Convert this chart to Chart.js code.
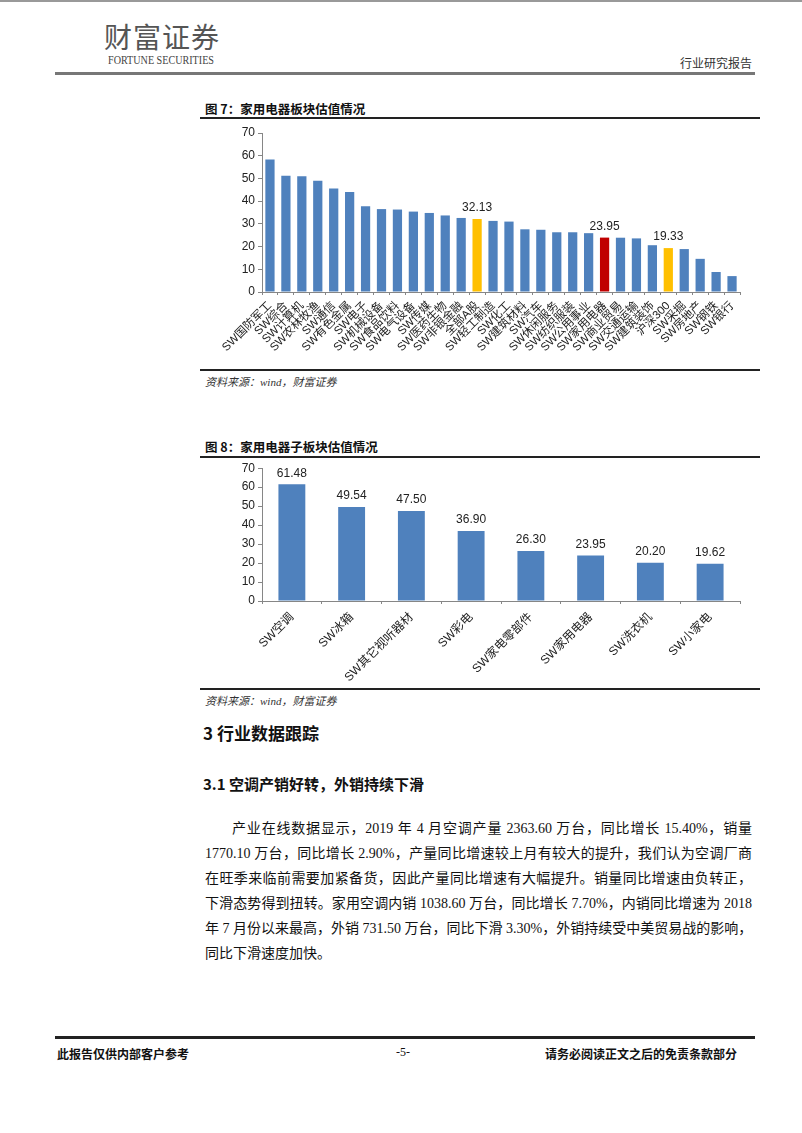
<!DOCTYPE html>
<html><head><meta charset="utf-8">
<script src="https://cdn.jsdelivr.net/npm/chart.js@4"></script>
<style>
html,body{margin:0;padding:0;background:#fff;}
body{width:802px;height:1133px;position:relative;overflow:hidden;font-family:"Liberation Serif","Noto Sans CJK SC",serif;color:#111;}
.abs{position:absolute;white-space:nowrap;}
.hl{position:absolute;}
.para{position:absolute;left:205px;width:547px;font-size:14px;text-align:justify;text-align-last:justify;white-space:nowrap;line-height:18px;}
</style></head><body>
<div class="hl" style="left:0;top:0;width:802px;height:2px;background:#999"></div>
<div class="abs" style="left:104px;top:16px;font-family:'Noto Sans CJK SC';font-size:28px;color:#555;letter-spacing:1px">财富证券</div>
<div class="abs" style="left:108px;top:54px;font-family:'Liberation Serif';font-size:11.5px;color:#444;transform:scaleX(0.88);transform-origin:left">FORTUNE SECURITIES</div>
<div class="abs" style="left:680px;top:54px;font-family:'Noto Sans CJK SC';font-size:12px;color:#333">行业研究报告</div>
<div class="hl" style="left:55px;top:72px;width:700px;height:3px;background:#777"></div>

<div class="abs" style="left:205px;top:99px;font-family:'Noto Sans CJK SC';font-weight:bold;font-size:12.5px">图 7：家用电器板块估值情况</div>
<div class="hl" style="left:200px;top:117px;width:560px;height:2px;background:#222"></div>
<canvas id="c1" style="position:absolute;left:200px;top:119px" width="560" height="250"></canvas>
<div class="hl" style="left:200px;top:369px;width:560px;height:1.5px;background:#222"></div>
<div class="abs" style="left:205px;top:373px;font-size:11px;font-style:italic;color:#333">资料来源：wind，财富证券</div>

<div class="abs" style="left:205px;top:437px;font-family:'Noto Sans CJK SC';font-weight:bold;font-size:12.5px">图 8：家用电器子板块估值情况</div>
<div class="hl" style="left:200px;top:456px;width:560px;height:2px;background:#222"></div>
<canvas id="c2" style="position:absolute;left:200px;top:458px" width="560" height="230"></canvas>
<div class="hl" style="left:200px;top:688px;width:560px;height:1.5px;background:#222"></div>
<div class="abs" style="left:205px;top:692px;font-size:11px;font-style:italic;color:#333">资料来源：wind，财富证券</div>

<div class="abs" style="left:203px;top:720px;font-family:'Noto Sans CJK SC';font-weight:bold;font-size:17px">3 行业数据跟踪</div>
<div class="abs" style="left:203px;top:773px;font-family:'Noto Sans CJK SC';font-weight:bold;font-size:15px">3.1 空调产销好转，外销持续下滑</div>

<div class="para" style="top:820px;left:232px;width:520px">产业在线数据显示，2019 年 4 月空调产量 2363.60 万台，同比增长 15.40%，销量</div>
<div class="para" style="top:845px">1770.10 万台，同比增长 2.90%，产量同比增速较上月有较大的提升，我们认为空调厂商</div>
<div class="para" style="top:870px">在旺季来临前需要加紧备货，因此产量同比增速有大幅提升。销量同比增速由负转正，</div>
<div class="para" style="top:895px">下滑态势得到扭转。家用空调内销 1038.60 万台，同比增长 7.70%，内销同比增速为 2018</div>
<div class="para" style="top:920px">年 7 月份以来最高，外销 731.50 万台，同比下滑 3.30%，外销持续受中美贸易战的影响，</div>
<div class="para" style="top:945px;text-align-last:left">同比下滑速度加快。</div>

<div class="hl" style="left:55px;top:1036px;width:700px;height:2.5px;background:#222"></div>
<div class="abs" style="left:57px;top:1045px;font-family:'Noto Sans CJK SC';font-weight:bold;font-size:12px">此报告仅供内部客户参考</div>
<div class="abs" style="left:396px;top:1045px;font-size:12px">-5-</div>
<div class="abs" style="left:545px;top:1045px;font-family:'Noto Sans CJK SC';font-weight:bold;font-size:12px">请务必阅读正文之后的免责条款部分</div>

<script>
// ---- Figure 7 data ----
const categories1 = ['SW国防军工','SW综合','SW计算机','SW农林牧渔','SW通信','SW有色金属','SW电子','SW机械设备','SW食品饮料','SW电气设备','SW传媒','SW医药生物','SW非银金融','全部A股','SW轻工制造','SW化工','SW建筑材料','SW汽车','SW休闲服务','SW纺织服装','SW公用事业','SW家用电器','SW商业贸易','SW交通运输','SW建筑装饰','沪深300','SW采掘','SW房地产','SW钢铁','SW银行'];
const values1 = [58.3, 51.2, 51.0, 49.0, 45.6, 44.0, 37.8, 36.5, 36.3, 35.4, 34.8, 33.7, 32.6, 32.13, 31.3, 31.0, 27.6, 27.4, 26.3, 26.3, 25.9, 23.95, 23.9, 23.6, 20.6, 19.33, 18.9, 14.6, 8.8, 7.0];
const labeled1 = ['全部A股','SW家用电器','沪深300'];
const benchmarks1 = ['全部A股','沪深300'];
const focus1 = ['SW家用电器'];
const yTicks1 = [0,10,20,30,40,50,60,70];

// ---- Figure 8 data ----
const categories2 = ['SW空调','SW冰箱','SW其它视听器材','SW彩电','SW家电零部件','SW家用电器','SW洗衣机','SW小家电'];
const values2 = [61.48, 49.54, 47.50, 36.90, 26.30, 23.95, 20.20, 19.62];
const yTicks2 = [0,10,20,30,40,50,60,70];

const FONT = '"Liberation Sans","Noto Sans CJK SC",Arial,sans-serif';
Chart.defaults.font.family = FONT;
Chart.defaults.color = '#222';

const valueLabels = {
  id:'valueLabels',
  afterDatasetsDraw(chart, args, opts){
    const ctx = chart.ctx;
    const meta = chart.getDatasetMeta(0);
    const ds = chart.data.datasets[0];
    ctx.save();
    ctx.font = '12px ' + FONT;
    ctx.fillStyle = '#222';
    ctx.textAlign = 'center';
    ctx.textBaseline = 'bottom';
    meta.data.forEach((bar,i)=>{
      const cat = chart.data.labels[i];
      if (opts.only && !opts.only.includes(cat)) return;
      ctx.fillText(ds.data[i].toFixed(2), bar.x, bar.y - opts.gap);
    });
    ctx.restore();
  }
};

function yScale(ticks, width){
  return {
    min: ticks[0], max: ticks[ticks.length-1],
    afterBuildTicks(s){ s.ticks = ticks.map(v=>({value:v})); },
    afterFit(s){ s.width = width; },
    border:{display:true,color:'#868686',width:1},
    grid:{drawOnChartArea:false,drawTicks:true,tickLength:4,color:'#868686'},
    ticks:{font:{size:12},color:'#222',padding:3}
  };
}
function xScale(height, fontSize, pad){
  return {
    afterFit(s){ s.height = height; },
    border:{display:true,color:'#868686',width:1},
    grid:{drawOnChartArea:false,drawTicks:true,tickLength:3,color:'#868686',offset:true},
    ticks:{font:{size:fontSize},color:'#222',minRotation:45,maxRotation:45,autoSkip:false,padding:pad}
  };
}

new Chart(document.getElementById('c1'), {
  type:'bar',
  data:{labels:categories1, datasets:[{data:values1,
    backgroundColor: categories1.map(c => focus1.includes(c) ? '#C00000' : benchmarks1.includes(c) ? '#FFC000' : '#4F81BD'),
    categoryPercentage:0.58, barPercentage:1}]},
  options:{responsive:false, animation:false, devicePixelRatio:1,
    layout:{padding:{top:14,right:20,left:0,bottom:0}},
    plugins:{legend:{display:false},tooltip:{enabled:false},valueLabels:{only:labeled1,gap:5}},
    scales:{x:xScale(77,11.5,4), y:yScale(yTicks1,62)}},
  plugins:[valueLabels]
});

new Chart(document.getElementById('c2'), {
  type:'bar',
  data:{labels:categories2, datasets:[{data:values2, backgroundColor:'#4F81BD',
    categoryPercentage:0.45, barPercentage:1}]},
  options:{responsive:false, animation:false, devicePixelRatio:1,
    layout:{padding:{top:9,right:20,left:0,bottom:0}},
    plugins:{legend:{display:false},tooltip:{enabled:false},valueLabels:{gap:5}},
    scales:{x:xScale(87,12,6), y:yScale(yTicks2,62)}},
  plugins:[valueLabels]
});
</script>
</body></html>
